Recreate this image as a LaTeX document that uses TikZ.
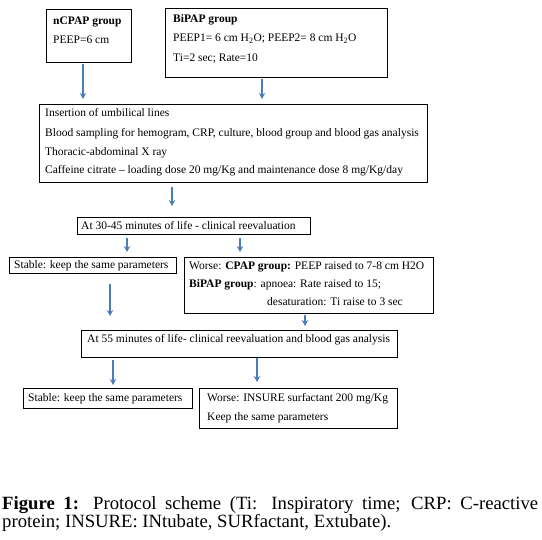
\documentclass[tikz,border=0pt]{standalone}
\usepackage{fontspec}
\setmainfont{Liberation Serif}
\usetikzlibrary{arrows.meta}
\definecolor{arrblue}{RGB}{74,126,187}
\begin{document}
\begin{tikzpicture}[x=1pt,y=-1pt,
  box/.style={draw=black, line width=1pt, inner sep=0pt, anchor=north west},
  txt/.style={anchor=base west, inner sep=0pt, font=\fontsize{11.5}{13}\selectfont},
  arr/.style={draw=arrblue, line width=1.6pt, -{Stealth[length=6pt,width=6.5pt]}}]
\useasboundingbox (0,0) rectangle (542,540);
% boxes
\node[box, minimum width=85pt,  minimum height=53pt] (ncpap)   at (46,9)   {};
\node[box, minimum width=222pt, minimum height=69pt] (bipap)   at (165,8)  {};
\node[box, minimum width=388pt, minimum height=78pt] (main)    at (39,104) {};
\node[box, minimum width=233pt, minimum height=17pt] (at30)    at (77,217) {};
\node[box, minimum width=167pt, minimum height=16pt] (stable1) at (9,257)  {};
\node[box, minimum width=249pt, minimum height=56pt] (worse1)  at (184,257){};
\node[box, minimum width=316pt, minimum height=27pt] (at55)    at (81,330) {};
\node[box, minimum width=169pt, minimum height=20pt] (stable2) at (23,388) {};
\node[box, minimum width=198pt, minimum height=40pt] (worse2)  at (199,388){};
% texts
\node[txt] (t1a) at (53,25) {\textbf{nCPAP group}};
\node[txt] (t1b) at (53,44) {PEEP=6 cm};
\node[txt] (t2a) at (173,23) {\textbf{BiPAP group}};
\node[txt] (t2b) at (173,42) {PEEP1= 6 cm H\textsubscript{2}O; PEEP2= 8 cm H\textsubscript{2}O};
\node[txt] (t2c) at (173,62) {Ti=2 sec; Rate=10};
\node[txt] (t3a) at (45,117) {Insertion of umbilical lines};
\node[txt] (t3b) at (45,137) {Blood sampling for hemogram, CRP, culture, blood group and blood gas analysis};
\node[txt] (t3c) at (45,156) {Thoracic-abdominal X ray};
\node[txt] (t3d) at (45,174) {Caffeine citrate -- loading dose 20 mg/Kg and maintenance dose 8 mg/Kg/day};
\node[txt] (t4)  at (81,230) {At 30-45 minutes of life - clinical reevaluation};
\node[txt] (t5)  at (14,269) {Stable: keep the same parameters};
\node[txt] (t6a) at (189,270) {Worse: \textbf{CPAP group:} PEEP raised to 7-8 cm H2O};
\node[txt] (t6b) at (189,288) {\textbf{BiPAP group}: apnoea: Rate raised to 15;};
\node[txt] (t6c) at (267,306) {desaturation: Ti raise to 3 sec};
\node[txt] (t7)  at (87,343) {At 55 minutes of life- clinical reevaluation and blood gas analysis};
\node[txt] (t8)  at (28,402) {Stable: keep the same parameters};
\node[txt] (t9a) at (207,402) {Worse: INSURE surfactant 200 mg/Kg};
\node[txt] (t9b) at (207,421) {Keep the same parameters};
% caption
\node[anchor=base west, inner sep=0pt, font=\fontsize{18.7}{18}\selectfont] (cap) at (2,510)
  {\parbox[t]{536pt}{\textbf{Figure 1:} Protocol scheme (Ti: Inspiratory time; CRP: C-reactive\linebreak protein; INSURE: INtubate, SURfactant, Extubate).}};
% arrow positions
\coordinate (x1) at (83,0);
\coordinate (x2) at (262,0);
\coordinate (x3) at (172,0);
\coordinate (x4) at (127,0);
\coordinate (x5) at (240,0);
\coordinate (x6) at (110,0);
\coordinate (x7) at (305,0);
\coordinate (x8) at (113,0);
\coordinate (x9) at (257,0);
% arrows
\draw[arr, shorten <=1pt,  shorten >=5pt]  (ncpap.south -| x1)   -- (main.north -| x1);
\draw[arr, shorten <=1pt,  shorten >=5pt]  (bipap.south -| x2)   -- (main.north -| x2);
\draw[arr, shorten <=4pt,  shorten >=11pt] (main.south -| x3)    -- (at30.north -| x3);
\draw[arr, shorten <=3pt,  shorten >=5pt]  (at30.south -| x4)    -- (stable1.north -| x4);
\draw[arr, shorten <=3pt,  shorten >=5pt]  (at30.south -| x5)    -- (worse1.north -| x5);
\draw[arr, shorten <=10pt, shorten >=14pt] (stable1.south -| x6) -- (at55.north -| x6);
\draw[arr, shorten <=1pt,  shorten >=4pt]  (worse1.south -| x7)  -- (at55.north -| x7);
\draw[arr, shorten <=2pt,  shorten >=3pt]  (at55.south -| x8)    -- (stable2.north -| x8);
\draw[arr, shorten <=0pt,  shorten >=6pt]  (at55.south -| x9)    -- (worse2.north -| x9);
\end{tikzpicture}
\end{document}
